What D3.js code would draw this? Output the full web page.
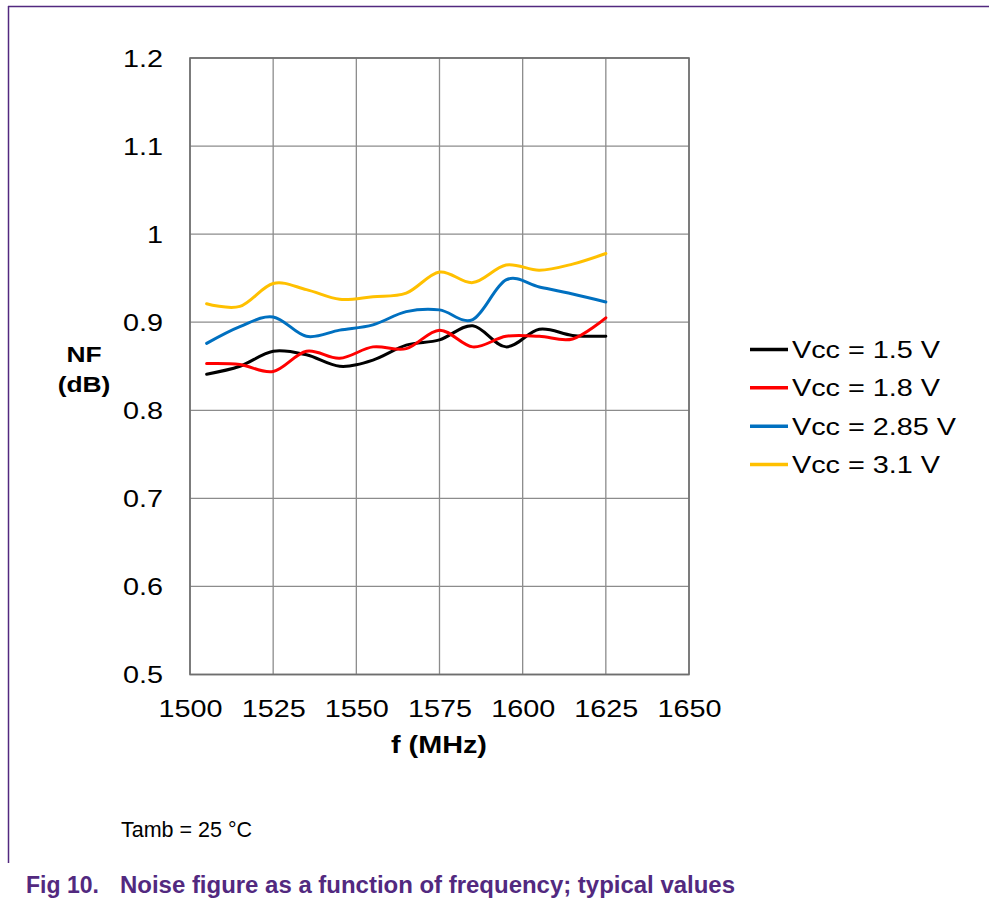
<!DOCTYPE html>
<html>
<head>
<meta charset="utf-8">
<script src="https://cdn.jsdelivr.net/npm/d3@7"></script>
<style>
  body { margin: 0; background: #fff; }
  svg { display: block; font-family: "Liberation Sans", Arial, sans-serif; }
</style>
</head>
<body>
<svg id="chart" width="989" height="905"></svg>
<script>
// frequency points (MHz)
var freqs = [1505, 1515, 1525, 1535, 1545, 1555, 1565, 1575, 1585, 1595, 1605, 1615, 1625];

// noise figure (dB) per supply voltage
var nf15  = [0.841, 0.850, 0.867, 0.863, 0.850, 0.857, 0.874, 0.880, 0.896, 0.872, 0.892, 0.885, 0.884];
var nf18  = [0.853, 0.852, 0.844, 0.867, 0.859, 0.872, 0.870, 0.891, 0.872, 0.884, 0.884, 0.881, 0.905];
var nf285 = [0.876, 0.895, 0.906, 0.884, 0.891, 0.897, 0.912, 0.914, 0.903, 0.948, 0.940, 0.932, 0.923];
var nf31  = [0.921, 0.918, 0.944, 0.937, 0.926, 0.929, 0.933, 0.957, 0.945, 0.965, 0.959, 0.966, 0.978];

var seriesNames = ["Vcc = 1.5 V", "Vcc = 1.8 V", "Vcc = 2.85 V", "Vcc = 3.1 V"];
var seriesColors = ["#000000", "#ff0000", "#0070c0", "#ffc000"];
var seriesValues = [nf15, nf18, nf285, nf31];

var xTicks = [1500, 1525, 1550, 1575, 1600, 1625, 1650];
var yTicks = [0.5, 0.6, 0.7, 0.8, 0.9, 1.0, 1.1, 1.2];

var svg = d3.select("#chart");
var purple = "#52297f";
var sx = 1.2; // chart text is stretched horizontally in the original

// page frame
svg.append("line").attr("x1", 8).attr("x2", 989).attr("y1", 6.5).attr("y2", 6.5)
    .attr("stroke", purple).attr("stroke-width", 1.5);
svg.append("line").attr("x1", 8.5).attr("x2", 8.5).attr("y1", 6).attr("y2", 863)
    .attr("stroke", purple).attr("stroke-width", 1.5);

var plotL = 190, plotR = 689, plotT = 58, plotB = 674.5;
var x = d3.scaleLinear().domain([1500, 1650]).range([plotL, plotR]);
var y = d3.scaleLinear().domain([0.5, 1.2]).range([plotB, plotT]);

// grid
var grid = svg.append("g");
grid.selectAll(".vx").data(xTicks).enter().append("line")
    .attr("x1", function(d){ return x(d); }).attr("x2", function(d){ return x(d); })
    .attr("y1", plotT).attr("y2", plotB)
    .attr("stroke", "#8c8c8c").attr("stroke-width", 1.3);
grid.selectAll(".hy").data(yTicks).enter().append("line")
    .attr("x1", plotL).attr("x2", plotR)
    .attr("y1", function(d){ return y(d); }).attr("y2", function(d){ return y(d); })
    .attr("stroke", "#8c8c8c").attr("stroke-width", 1.3);
svg.append("rect").attr("x", plotL).attr("y", plotT)
    .attr("width", plotR - plotL).attr("height", plotB - plotT)
    .attr("fill", "none").attr("stroke", "#6e6e6e").attr("stroke-width", 1.6);

// axes (labels only)
var yAxis = svg.append("g").attr("transform", "translate(" + plotL + ",0)")
    .call(d3.axisLeft(y).tickValues(yTicks).tickSize(0).tickFormat(function(d){ return String(+d.toFixed(1)); }));
yAxis.select(".domain").remove();
yAxis.selectAll("text")
    .attr("x", -27 / sx).attr("dy", "0.35em")
    .attr("transform", "scale(" + sx + ",1)")
    .attr("font-size", 24).attr("font-family", "Liberation Sans, Arial, sans-serif").attr("fill", "#000");

var xAxis = svg.append("g").attr("transform", "translate(0," + plotB + ")")
    .call(d3.axisBottom(x).tickValues(xTicks).tickSize(0).tickFormat(d3.format("d")));
xAxis.select(".domain").remove();
xAxis.selectAll("text")
    .attr("y", 43).attr("dy", 0)
    .attr("transform", "scale(" + sx + ",1)")
    .attr("font-size", 24).attr("font-family", "Liberation Sans, Arial, sans-serif").attr("fill", "#000");

function stretchedText(px, py, str, size, bold, anchor) {
    svg.append("text")
        .attr("transform", "translate(" + px + "," + py + ") scale(" + sx + ",1)")
        .attr("font-size", size).attr("font-weight", bold ? "bold" : "normal")
        .attr("text-anchor", anchor || "start").attr("fill", "#000")
        .text(str);
}

stretchedText(439, 753, "f (MHz)", 24, true, "middle");
stretchedText(84, 361.5, "NF", 22, true, "middle");
stretchedText(84, 391.5, "(dB)", 22, true, "middle");

// series
var line = d3.line()
    .x(function(d, i){ return x(freqs[i]); })
    .y(function(d){ return y(d); })
    .curve(d3.curveCardinal.tension(0));

seriesValues.forEach(function(vals, k){
    svg.append("path").datum(vals)
        .attr("d", line)
        .attr("fill", "none")
        .attr("stroke", seriesColors[k])
        .attr("stroke-width", 3)
        .attr("stroke-linecap", "round");
});

// legend
var legendY = d3.scalePoint().domain(seriesNames).range([349.5, 464.5]);
seriesNames.forEach(function(name, k){
    var ly = legendY(name);
    svg.append("line").attr("x1", 750).attr("x2", 788).attr("y1", ly).attr("y2", ly)
        .attr("stroke", seriesColors[k]).attr("stroke-width", 3.5);
    stretchedText(792, ly + 8.5, name, 24, false, "start");
});

// notes
svg.append("text").attr("x", 121).attr("y", 836.5)
    .attr("font-size", 21.5).attr("fill", "#000")
    .text("Tamb = 25 \u00b0C");

svg.append("text").attr("x", 26).attr("y", 893)
    .attr("font-size", 23).attr("font-weight", "bold").attr("fill", purple)
    .text("Fig 10.");
svg.append("text").attr("x", 120).attr("y", 893)
    .attr("font-size", 23).attr("font-weight", "bold").attr("fill", purple)
    .attr("textLength", 615).attr("lengthAdjust", "spacingAndGlyphs")
    .text("Noise figure as a function of frequency; typical values");
</script>
</body>
</html>
